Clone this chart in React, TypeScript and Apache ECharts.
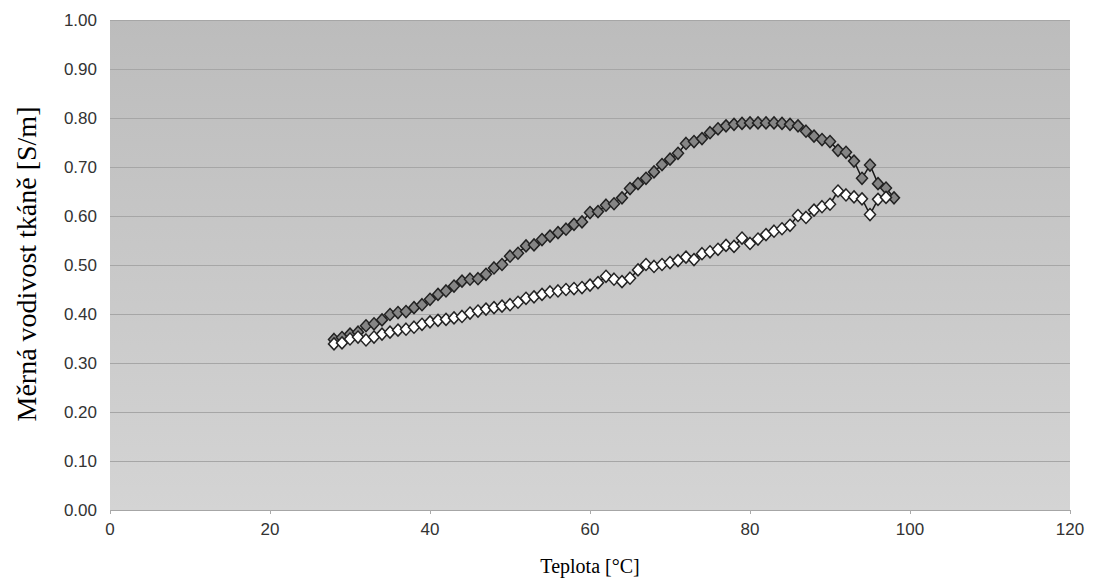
import React, { useEffect, useRef } from "react";
import * as echarts from "echarts";

const temps = [28,29,30,31,32,33,34,35,36,37,38,39,40,41,42,43,44,45,46,47,48,49,50,51,52,53,54,55,56,57,58,59,60,61,62,63,64,65,66,67,68,69,70,71,72,73,74,75,76,77,78,79,80,81,82,83,84,85,86,87,88,89,90,91,92,93,94,95,96,97,98];

const heating = [
  0.348,0.352,0.359,0.363,0.376,0.380,0.388,0.399,0.403,0.405,0.413,0.419,
  0.430,0.440,0.447,0.457,0.467,0.471,0.472,0.481,0.494,0.501,0.518,0.524,
  0.539,0.541,0.552,0.559,0.566,0.573,0.583,0.588,0.607,0.609,0.622,0.625,
  0.637,0.656,0.666,0.677,0.690,0.705,0.716,0.728,0.748,0.752,0.758,0.770,
  0.778,0.784,0.787,0.789,0.790,0.790,0.790,0.790,0.789,0.787,0.784,0.773,
  0.763,0.756,0.752,0.734,0.730,0.712,0.677,0.704,0.666,0.657,0.637
];

const cooling = [
  0.339,0.341,0.349,0.353,0.347,0.353,0.359,0.363,0.367,0.369,0.373,0.379,
  0.384,0.387,0.389,0.392,0.395,0.402,0.406,0.410,0.413,0.416,0.419,0.424,
  0.432,0.435,0.440,0.445,0.447,0.450,0.452,0.454,0.459,0.464,0.477,0.471,
  0.466,0.473,0.490,0.501,0.497,0.501,0.505,0.509,0.516,0.511,0.523,0.527,
  0.532,0.540,0.538,0.555,0.544,0.553,0.562,0.569,0.574,0.581,0.601,0.597,
  0.612,0.619,0.624,0.651,0.643,0.639,0.635,0.603,0.634,0.638
];

const yTicks = [0, 0.1, 0.2, 0.3, 0.4, 0.5, 0.6, 0.7, 0.8, 0.9, 1.0];
const xTitle = "Teplota [°C]";
const yTitle = "Měrná vodivost tkáně [S/m]";

export default function App() {
  const ref = useRef<HTMLDivElement>(null);
  useEffect(() => {
    if (!ref.current) return;
    const chart = echarts.init(ref.current, null, { renderer: "svg" });
    const heatData = temps.map((t, i) => [t, heating[i]]);
    const coolData = cooling.map((v, i) => [temps[i], v]);
    chart.setOption({
      animation: false,
      backgroundColor: "#ffffff",
      grid: {
        left: 110,
        right: 25,
        top: 20,
        bottom: 75,
        show: true,
        borderWidth: 0,
        backgroundColor: new echarts.graphic.LinearGradient(0, 0, 0, 1, [
          { offset: 0, color: "#bcbcbc" },
          { offset: 1, color: "#d4d4d4" },
        ]),
      },
      graphic: [
        {
          type: "text",
          x: 26,
          y: 264,
          rotation: Math.PI / 2,
          style: {
            text: yTitle,
            font: "28px 'Liberation Serif'",
            fill: "#000",
            textAlign: "center",
            textVerticalAlign: "middle",
          },
        },
      ],
      xAxis: {
        type: "value",
        min: 0,
        max: 120,
        interval: 20,
        name: xTitle,
        nameLocation: "middle",
        nameGap: 46,
        nameTextStyle: { fontFamily: "Liberation Serif", fontSize: 20, color: "#000" },
        axisLine: { show: false },
        axisTick: { show: true, length: 4, lineStyle: { color: "#aaa" } },
        splitLine: { show: false },
        axisLabel: { fontFamily: "Liberation Sans", fontSize: 17, color: "#333", margin: 11 },
      },
      yAxis: {
        type: "value",
        min: 0,
        max: 1,
        interval: 0.1,
        axisLine: { show: false },
        axisTick: { show: false },
        splitLine: { show: true, lineStyle: { color: "#a6a6a6", width: 1 } },
        axisLabel: {
          fontFamily: "Liberation Sans",
          fontSize: 17,
          color: "#333",
          margin: 13,
          formatter: (v: number) => {
            const m = yTicks.find((t) => Math.abs(t - v) < 1e-6);
            return (m !== undefined ? m : v).toFixed(2);
          },
        },
      },
      series: [
        {
          type: "line",
          data: heatData,
          symbol: "diamond",
          symbolSize: [11, 12],
          lineStyle: { color: "#1a1a1a", width: 1.5 },
          itemStyle: { color: "#858585", borderColor: "#222", borderWidth: 1.5 },
          z: 2,
        },
        {
          type: "line",
          data: coolData,
          symbol: "diamond",
          symbolSize: [11, 12],
          lineStyle: { color: "#1a1a1a", width: 1.5 },
          itemStyle: { color: "#ffffff", borderColor: "#222", borderWidth: 1.5 },
          z: 3,
        },
      ],
    });
    return () => chart.dispose();
  }, []);
  return (
    <div
      ref={ref}
      style={{ position: "absolute", left: 0, top: 0, width: 1095, height: 585 }}
    />
  );
}
